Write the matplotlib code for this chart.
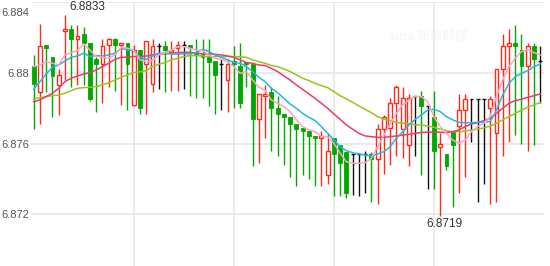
"""
Candlestick chart with four moving averages (USD/CNY style), saved to out.png.
"""
import matplotlib
matplotlib.use("Agg")  # headless
import matplotlib.pyplot as plt
import numpy as np
from matplotlib.transforms import ScaledTranslation

# ----- data -----
open_ = [
    6.8804, 6.8789, 6.8816, 6.8809, 6.8793, 6.8824, 6.8825, 6.8819, 6.8822, 6.8817,
    6.8808, 6.8805, 6.8816, 6.8819, 6.8816, 6.8817, 6.8782, 6.8813, 6.8805, 6.8794,
    6.8815, 6.8815, 6.8812, 6.8814, 6.8816, 6.8816, 6.8812, 6.8811, 6.8809, 6.8807,
    6.8805, 6.8796, 6.8807, 6.8804, 6.8806, 6.8805, 6.8774, 6.8787, 6.8789, 6.8780,
    6.8777, 6.8775, 6.8771, 6.8769, 6.8767, 6.8764, 6.8763, 6.8742, 6.8763, 6.8759,
    6.8755, 6.8754, 6.8754, 6.8754, 6.8754, 6.8751, 6.8768, 6.8769, 6.8783, 6.8768,
    6.8759, 6.8787, 6.8787, 6.8781, 6.8775, 6.8758, 6.8754, 6.8767, 6.8770, 6.8779,
    6.8785, 6.8785, 6.8785, 6.8780, 6.8766, 6.8802, 6.8815, 6.8817, 6.8813, 6.8804,
    6.8815, 6.8807,
]
close = [
    6.8794, 6.8815, 6.8814, 6.8798, 6.8799, 6.8825, 6.8819, 6.8821, 6.8817, 6.8785,
    6.8805, 6.8815, 6.8819, 6.8816, 6.8817, 6.8805, 6.8813, 6.8780, 6.8818, 6.8815,
    6.8815, 6.8813, 6.8813, 6.8816, 6.8816, 6.8814, 6.8811, 6.8809, 6.8806, 6.8799,
    6.8805, 6.8805, 6.8805, 6.8783, 6.8805, 6.8774, 6.8788, 6.8788, 6.8780, 6.8777,
    6.8775, 6.8771, 6.8768, 6.8767, 6.8764, 6.8763, 6.8764, 6.8756, 6.8754, 6.8749,
    6.8732, 6.8754, 6.8754, 6.8754, 6.8751, 6.8768, 6.8775, 6.8783, 6.8792, 6.8786,
    6.8786, 6.8787, 6.8781, 6.8781, 6.8756, 6.8760, 6.8747, 6.8759, 6.8779, 6.8785,
    6.8785, 6.8785, 6.8785, 6.8785, 6.8802, 6.8815, 6.8817, 6.8815, 6.8804, 6.8815,
    6.8808, 6.8807,
]
high = [
    6.8810, 6.8828, 6.8816, 6.8809, 6.8802, 6.8833, 6.8827, 6.8827, 6.8826, 6.8817,
    6.8809, 6.8819, 6.8820, 6.8820, 6.8817, 6.8817, 6.8816, 6.8813, 6.8818, 6.8819,
    6.8817, 6.8818, 6.8818, 6.8818, 6.8818, 6.8816, 6.8819, 6.8819, 6.8819, 6.8807,
    6.8808, 6.8808, 6.8815, 6.8817, 6.8806, 6.8805, 6.8788, 6.8793, 6.8792, 6.8787,
    6.8777, 6.8775, 6.8771, 6.8769, 6.8767, 6.8764, 6.8767, 6.8766, 6.8763, 6.8759,
    6.8755, 6.8754, 6.8754, 6.8756, 6.8755, 6.8771, 6.8776, 6.8786, 6.8793, 6.8792,
    6.8788, 6.8787, 6.8790, 6.8781, 6.8790, 6.8766, 6.8754, 6.8767, 6.8788, 6.8788,
    6.8785, 6.8785, 6.8785, 6.8787, 6.8802, 6.8822, 6.8825, 6.8827, 6.8822, 6.8817,
    6.8817, 6.8815,
]
low = [
    6.8768, 6.8771, 6.8789, 6.8775, 6.8776, 6.8796, 6.8792, 6.8793, 6.8793, 6.8784,
    6.8778, 6.8783, 6.8792, 6.8790, 6.8782, 6.8779, 6.8781, 6.8777, 6.8777, 6.8789,
    6.8791, 6.8789, 6.8790, 6.8790, 6.8791, 6.8787, 6.8786, 6.8786, 6.8781, 6.8777,
    6.8779, 6.8778, 6.8780, 6.8780, 6.8792, 6.8747, 6.8749, 6.8763, 6.8756, 6.8753,
    6.8748, 6.8741, 6.8736, 6.8742, 6.8740, 6.8736, 6.8736, 6.8737, 6.8730, 6.8730,
    6.8729, 6.8731, 6.8730, 6.8732, 6.8727, 6.8726, 6.8743, 6.8748, 6.8753, 6.8752,
    6.8747, 6.8753, 6.8742, 6.8734, 6.8734, 6.8719, 6.8745, 6.8724, 6.8732, 6.8741,
    6.8761, 6.8727, 6.8737, 6.8726, 6.8727, 6.8753, 6.8761, 6.8765, 6.8760, 6.8756,
    6.8759, 6.8783,
]

ma5 = [
    6.88036, 6.88045, 6.88064, 6.88055, 6.88045, 6.88102, 6.88115, 6.88127, 6.88164, 6.88130,
    6.88093, 6.88089, 6.88083, 6.88102, 6.88146, 6.88140, 6.88130, 6.88074, 6.88064, 6.88070,
    6.88102, 6.88115, 6.88130, 6.88149, 6.88149, 6.88140, 6.88130, 6.88127, 6.88102, 6.88083,
    6.88077, 6.88064, 6.88036, 6.87998, 6.88008, 6.87960, 6.87919, 6.87900, 6.87847, 6.87828,
    6.87809, 6.87781, 6.87734, 6.87696, 6.87677, 6.87667, 6.87639, 6.87639, 6.87601, 6.87545,
    6.87497, 6.87488, 6.87488, 6.87492, 6.87516, 6.87582, 6.87648, 6.87711, 6.87771, 6.87819,
    6.87847, 6.87866, 6.87866, 6.87837, 6.87752, 6.87696, 6.87658, 6.87620, 6.87601, 6.87620,
    6.87667, 6.87696, 6.87715, 6.87752, 6.87866, 6.87960, 6.88036, 6.88083, 6.88121, 6.88130,
    6.88115, 6.88102,
]
ma10 = [
    6.87907, 6.87951, 6.87994, 6.88032, 6.88045, 6.88068, 6.88089, 6.88096, 6.88112, 6.88093,
    6.88098, 6.88096, 6.88102, 6.88112, 6.88140, 6.88130, 6.88127, 6.88089, 6.88077, 6.88096,
    6.88112, 6.88112, 6.88108, 6.88106, 6.88108, 6.88108, 6.88115, 6.88134, 6.88121, 6.88102,
    6.88089, 6.88074, 6.88059, 6.88055, 6.88036, 6.88008, 6.87975, 6.87951, 6.87913, 6.87888,
    6.87856, 6.87824, 6.87800, 6.87771, 6.87749, 6.87730, 6.87696, 6.87658, 6.87620, 6.87582,
    6.87560, 6.87548, 6.87541, 6.87535, 6.87529, 6.87541, 6.87554, 6.87582, 6.87630, 6.87667,
    6.87705, 6.87737, 6.87762, 6.87790, 6.87794, 6.87781, 6.87752, 6.87734, 6.87720, 6.87718,
    6.87718, 6.87720, 6.87722, 6.87724, 6.87790, 6.87875, 6.87941, 6.87979, 6.87998, 6.88013,
    6.88036, 6.88051,
]
ma20 = [
    6.87837, 6.87847, 6.87866, 6.87885, 6.87913, 6.87951, 6.87970, 6.87983, 6.87994, 6.88002,
    6.88017, 6.88036, 6.88055, 6.88077, 6.88089, 6.88089, 6.88093, 6.88093, 6.88096, 6.88102,
    6.88106, 6.88108, 6.88112, 6.88115, 6.88117, 6.88117, 6.88112, 6.88108, 6.88108, 6.88106,
    6.88102, 6.88096, 6.88089, 6.88074, 6.88059, 6.88055, 6.88045, 6.88042, 6.88026, 6.88008,
    6.87983, 6.87960, 6.87932, 6.87907, 6.87881, 6.87856, 6.87828, 6.87800, 6.87768, 6.87737,
    6.87705, 6.87681, 6.87658, 6.87643, 6.87639, 6.87635, 6.87635, 6.87639, 6.87643, 6.87648,
    6.87652, 6.87658, 6.87662, 6.87665, 6.87665, 6.87664, 6.87662, 6.87667, 6.87677, 6.87696,
    6.87711, 6.87718, 6.87730, 6.87743, 6.87771, 6.87800, 6.87828, 6.87843, 6.87851, 6.87862,
    6.87871, 6.87881,
]
ma30 = [
    6.87853, 6.87860, 6.87866, 6.87871, 6.87875, 6.87885, 6.87900, 6.87913, 6.87917, 6.87919,
    6.87923, 6.87932, 6.87945, 6.87960, 6.87975, 6.87989, 6.88002, 6.88006, 6.88013, 6.88036,
    6.88049, 6.88059, 6.88074, 6.88083, 6.88093, 6.88098, 6.88098, 6.88096, 6.88093, 6.88093,
    6.88093, 6.88093, 6.88093, 6.88091, 6.88089, 6.88074, 6.88064, 6.88055, 6.88042, 6.88036,
    6.88023, 6.88008, 6.87989, 6.87970, 6.87957, 6.87941, 6.87928, 6.87917, 6.87894, 6.87871,
    6.87853, 6.87834, 6.87813, 6.87794, 6.87775, 6.87752, 6.87739, 6.87730, 6.87720, 6.87715,
    6.87711, 6.87707, 6.87705, 6.87699, 6.87692, 6.87682, 6.87673, 6.87667, 6.87667, 6.87671,
    6.87677, 6.87682, 6.87688, 6.87699, 6.87715, 6.87734, 6.87752, 6.87771, 6.87790, 6.87805,
    6.87819, 6.87832,
]

y_ticks = [6.872, 6.876, 6.880, 6.884]
y_tick_labels = ["6.872", "6.876", "6.88", "6.884"]
x_grid = [16, 32, 48, 64]

RED = "#ff2a1a"
GREEN = "#00a800"
DOJI = "#111111"


def main() -> None:
    o = np.array(open_)
    c = np.array(close)
    h = np.array(high)
    lo = np.array(low)
    x = np.arange(len(o))

    up = c > o
    down = c < o
    flat = c == o
    colors = np.where(up, RED, np.where(down, GREEN, DOJI))

    fig = plt.figure(figsize=(5.5, 2.66), dpi=100)
    ax = fig.add_axes([31 / 550, 0, 513 / 550, 264 / 266])

    ax.set_xlim(-0.43, 81.6)
    ax.set_ylim(6.86906, 6.88402)

    # grid
    ax.set_yticks(y_ticks)
    ax.set_yticklabels(y_tick_labels)
    ax.set_xticks(x_grid)
    ax.set_xticklabels([])
    ax.grid(True, color="#e8e8e8", lw=1.2, zorder=0)
    ax.set_axisbelow(True)
    for s in ax.spines.values():
        s.set_visible(False)
    ax.tick_params(axis="both", length=0)
    ax.tick_params(axis="y", pad=1, labelsize=8, labelcolor="#555555")
    for lab in ax.get_yticklabels():
        lab.set_fontfamily("Liberation Sans")
    # top label sits inside the figure, pushed down
    top_lab = ax.get_yticklabels()[-1]
    top_lab.set_transform(top_lab.get_transform()
                          + ScaledTranslation(0, -10 / 100, fig.dpi_scale_trans))

    # watermark (very faint)
    ax.text(0.775, 0.87, "sina 新浪财经", transform=ax.transAxes,
            fontsize=9, fontweight="bold", color="#f7f7f7",
            family=["Noto Sans CJK SC", "DejaVu Sans"],
            ha="center", va="center", zorder=0.5)

    # candles
    w = 0.62
    ax.vlines(x, lo, h, colors=colors, lw=1, zorder=2)
    ax.bar(x[up], c[up] - o[up], bottom=o[up], width=w,
           facecolor="white", edgecolor=RED, lw=1, zorder=3)
    ax.bar(x[down], o[down] - c[down], bottom=c[down], width=w,
           facecolor=GREEN, edgecolor=GREEN, lw=0.6, zorder=3)
    ax.hlines(c[flat], x[flat] - w / 2, x[flat] + w / 2, colors=DOJI, lw=1, zorder=3)

    # moving averages
    ax.plot(x, ma30, color="#99c41e", lw=1.1, zorder=4)
    ax.plot(x, ma20, color="#ee3a6f", lw=1.1, zorder=4)
    ax.plot(x, ma10, color="#22b8e0", lw=1.1, zorder=4)
    ax.plot(x, ma5, color="#ffa3c3", lw=1.1, zorder=4)

    # max / min labels
    i_max = int(np.argmax(h))
    i_min = int(np.argmin(lo))
    ax.annotate(f"{h[i_max]:.4f}", xy=(i_max, h[i_max]), xytext=(4, 8),
                textcoords="offset pixels", ha="left", va="center",
                fontsize=8.5, color="#333333", family="Liberation Sans", zorder=5)
    ax.annotate(f"{lo[i_min]:.4f}", xy=(i_min, lo[i_min]), xytext=(4, -8),
                textcoords="offset pixels", ha="center", va="center",
                fontsize=8.5, color="#333333", family="Liberation Sans", zorder=5)

    fig.savefig("out.png", dpi=100)
    plt.close(fig)


if __name__ == "__main__":
    main()
